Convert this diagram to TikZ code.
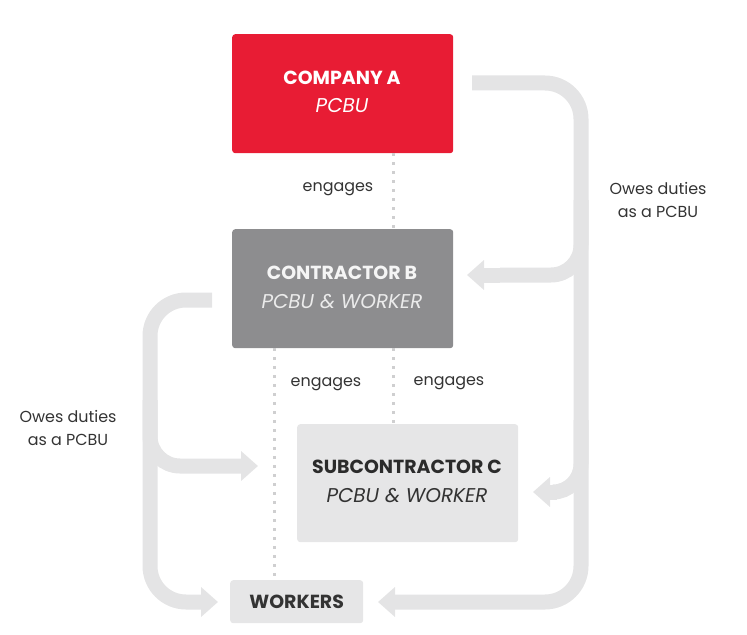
\documentclass[tikz,border=0pt]{standalone}
\usepackage{fontspec}
\setmainfont{Poppins}
\usetikzlibrary{arrows.meta}
\definecolor{pred}{HTML}{E81C34}
\definecolor{bgrey}{HTML}{8D8D8F}
\definecolor{cgrey}{HTML}{E6E6E7}
\definecolor{agrey}{HTML}{E4E4E5}
\definecolor{dotgrey}{HTML}{CFCFD0}
\definecolor{dtext}{HTML}{2B2B2B}
\definecolor{ltext}{HTML}{333333}
\tikzset{
  box/.style={rectangle, rounded corners=3bp, inner sep=0pt, anchor=north west},
  flow/.style={draw=agrey, line width=15bp, -{Triangle[width=29bp,length=17bp]}},
  flowline/.style={draw=agrey, line width=15bp},
  dots/.style={draw=dotgrey, line width=3bp, dash pattern=on 3bp off 6bp},
  title/.style={font=\fontsize{19}{22}\selectfont\bfseries},
  sub/.style={font=\fontsize{20}{22}\selectfont\itshape},
  lbl/.style={font=\fontsize{16}{24}\selectfont, text=ltext, align=center}
}
\begin{document}
\begin{tikzpicture}[x=1bp,y=-1bp]
\useasboundingbox (0,0) rectangle (747,635);
% boxes
\node[box, fill=pred, minimum width=221bp, minimum height=119bp] (A) at (232,34) {};
\node[box, fill=bgrey, minimum width=221bp, minimum height=119bp] (B) at (232,229) {};
\node[box, fill=cgrey, minimum width=221bp, minimum height=118bp] (C) at (297,424) {};
\node[box, fill=cgrey, minimum width=133bp, minimum height=43bp] (W) at (230,580) {};
% texts
\node[title, text=white] (At) at (342,78) {COMPANY A};
\node[sub, text=white] (As) at (342,106) {PCBU};
\node[title, text=white!96!black] (Bt) at (342,273) {CONTRACTOR B};
\node[sub, text=white!92!black] (Bs) at (342,302) {PCBU \& WORKER};
\node[title, text=dtext] (Ct) at (407,467) {SUBCONTRACTOR C};
\node[sub, text=ltext] (Cs) at (407,496) {PCBU \& WORKER};
\node[title, text=ltext] (Wt) at (W.center) {WORKERS};
% dotted engages lines
\draw[dots] (A.south -| 393,0) -- (B.north -| 393,0);
\draw[dots] (B.south -| 393,0) -- (C.north -| 393,0);
\draw[dots] (B.south -| 274,0) -- (W.north -| 274,0);
\node[lbl] (e1) at (338,189) {engages};
\node[lbl] (e2) at (326,384) {engages};
\node[lbl] (e3) at (449,383) {engages};
% right flow
\coordinate (r0) at (472,83);
\coordinate (rB) at (467,275);
\coordinate (rC) at (533,492);
\coordinate (rW) at (378,602);
\draw[flow, rounded corners=36bp] (r0) -- (581,83) -- (581,602) -- (rW);
\draw[flowline, rounded corners=30bp] (581,200) |- (500,275);
\draw[flow] (500,275) -- (rB);
\draw[flowline, rounded corners=28bp] (581,420) |- (556,492);
\draw[flow] (557,492) -- (rC);
% left flow
\coordinate (l0) at (212,300);
\coordinate (lC) at (258,466);
\coordinate (lW) at (218,602);
\draw[flow, rounded corners=36bp] (l0) -- (150,300) -- (150,602) -- (lW);
\draw[flow, rounded corners=30bp] (150,400) |- (lC);
\node[lbl] (o1) at (658,200) {Owes duties\\as a PCBU};
\node[lbl] (o2) at (68,428) {Owes duties\\as a PCBU};
\end{tikzpicture}
\end{document}
